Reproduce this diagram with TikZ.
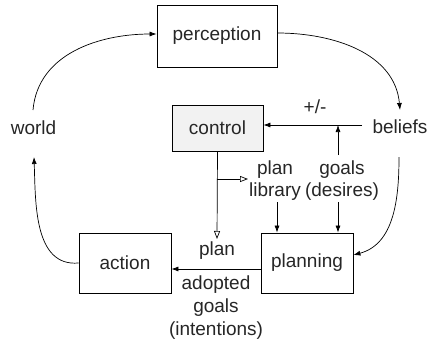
\documentclass[tikz,border=0pt]{standalone}
\usepackage{fontspec}
\setmainfont{Liberation Sans}
\usetikzlibrary{arrows.meta}
\definecolor{txt}{HTML}{262626}
\definecolor{ctlfill}{HTML}{F2F2F2}
\begin{document}
\begin{tikzpicture}[x=1pt,y=-1pt,
  font=\fontsize{19}{22}\selectfont,
  every node/.style={text=txt},
  box/.style={draw=black,line width=0.8pt,inner sep=0pt},
  lbl/.style={align=center,inner sep=0pt},
  arr/.style={-{Latex[length=7pt,width=5pt]},line width=0.7pt},
  oarr/.style={-{Triangle[open,length=8pt,width=6pt]},line width=0.7pt}]
\useasboundingbox (0,0) rectangle (428,346);
\node[box,minimum width=120pt,minimum height=62pt] (perc) at (217,36) {perception};
\node[box,fill=ctlfill,minimum width=91pt,minimum height=46pt] (ctl) at (217.5,128) {control};
\node[box,minimum width=92pt,minimum height=60pt] (act) at (125,263) {action};
\node[box,minimum width=92pt,minimum height=60pt] (plan) at (307,263) {planning};
\node[lbl] (world) at (33.5,128) {world};
\node[lbl] (bel) at (400,127) {beliefs};
\node[lbl] (pm) at (315,107) {+/-};
\node[lbl] (lib) at (275,181) {plan\\library};
\node[lbl] (goals) at (342,181) {goals\\(desires)};
\node[lbl] (planl) at (217,251) {plan};
\node[lbl] (adopt) at (216,308) {adopted\\[1pt]goals\\[1pt](intentions)};
\coordinate (w1) at (33,110);
\coordinate (w2) at (34,157);
\coordinate (b1) at (400,110);
\coordinate (b2) at (399,157);
\coordinate (bs) at (362,125);
\coordinate (gt) at (338,125);
\coordinate (gb) at (338,155);
\coordinate (lb) at (277,202);
\coordinate (gb2) at (338,202);
\coordinate (br) at (217,179);
\coordinate (bre) at (248,179);
\coordinate (cd) at (217,239);
% main cycle
\draw[arr] (w1) to[out=85,in=180] (perc.west |- 0,34);
\draw[arr] (perc.east |- 0,33) to[out=0,in=95] (b1);
\draw[arr] (b2) to[out=-90,in=15] (plan.east |- 0,255);
\draw[arr] (act.west) to[out=185,in=-88] (w2);
% inner
\draw[arr] (bs) -- (ctl.east |- bs);
\draw[arr] (gb) -- (gt);
\draw[arr] (lb) -- (lb |- plan.north);
\draw[arr] (gb2) -- (gb2 |- plan.north);
\draw[oarr] (ctl.south) -- (cd);
\draw[oarr] (br) -- (bre);
\draw[arr] (plan.west |- 0,269) -- (act.east |- 0,269);
\end{tikzpicture}
\end{document}
